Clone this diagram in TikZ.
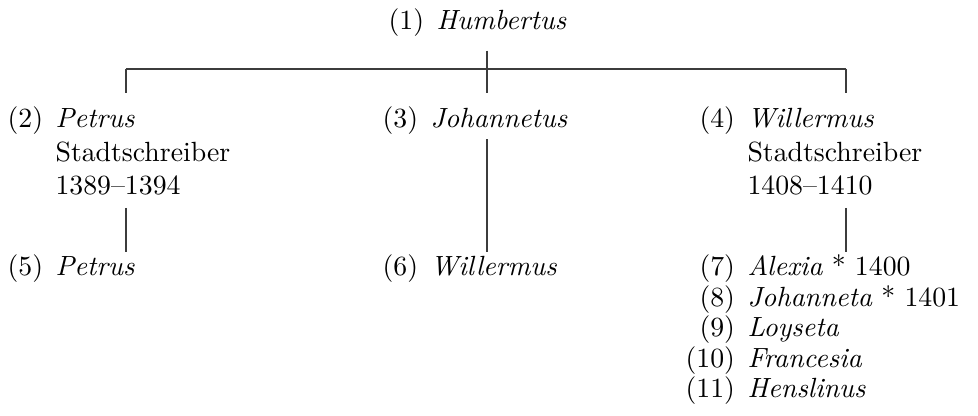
\documentclass[tikz,border=0pt]{standalone}
\usepackage{xcolor}
\definecolor{ink_gray}{RGB}{60,60,60}
\usepackage{tikz}
\usetikzlibrary{calc,positioning}
\newcommand{\persnum}[1]{\llap{\upshape(#1)\hspace{0.45em}}}

\begin{document}
\begin{tikzpicture}
[	x=0.36pt, y=-0.36pt,
	person/.style = {anchor=base west, inner sep=0, font=\itshape},
	note/.style = {anchor=base west, inner sep=0},
	line/.style = {draw=ink_gray, line width=0.45pt}
]
\useasboundingbox (0,0) rectangle (978,416);

% generation 1
\node[person] (p1) at (436,30) {\persnum{1}Humbertus};

% generation 2
\node[person] (p2) at (55,128) {\persnum{2}Petrus};
\node[note] (p2s) at ([yshift=-12pt]p2.base west) {Stadtschreiber};
\node[note] (p2y) at ([yshift=-12pt]p2s.base west) {1389--1394};
\node[person] (p3) at (430,128) {\persnum{3}Johannetus};
\node[person] (p4) at (747,128) {\persnum{4}Willermus};
\node[note] (p4s) at ([yshift=-12pt]p4.base west) {Stadtschreiber};
\node[note] (p4y) at ([yshift=-12pt]p4s.base west) {1408--1410};

% generation 3
\node[person] (p5) at (55,276) {\persnum{5}Petrus};
\node[person] (p6) at (430,276) {\persnum{6}Willermus};
\foreach \n/\name/\extra [count=\i from 0] in
	{7/Alexia/{\ * 1400}, 8/Johanneta/{\ * 1401}, 9/Loyseta/{}, 10/Francesia/{}, 11/Henslinus/{}}
	\node[person] (p\n) at (747,276+30.5*\i) {\persnum{\n}\name\upshape\extra};

% fork
\foreach \c/\x in {l/126, m/487, r/846}
	\draw[line] (\x,69) coordinate (bar_\c) -- (\x,93) coordinate (tick_\c);
\draw[line] (bar_l) -- (bar_r);
\draw[line] ([yshift=-4.7pt]p1.south -| bar_m) -- (bar_m);

% descendants
\draw[line] ([yshift=-4.3pt]p2y.south -| bar_l) -- ([yshift=1pt]p5.north -| bar_l);
\draw[line] ([yshift=-1.4pt]p3.south -| bar_m) -- ([yshift=1pt]p6.north -| bar_m);
\draw[line] ([yshift=-4.3pt]p4y.south -| bar_r) -- ([yshift=1pt]p7.north -| bar_r);

\end{tikzpicture}
\end{document}
